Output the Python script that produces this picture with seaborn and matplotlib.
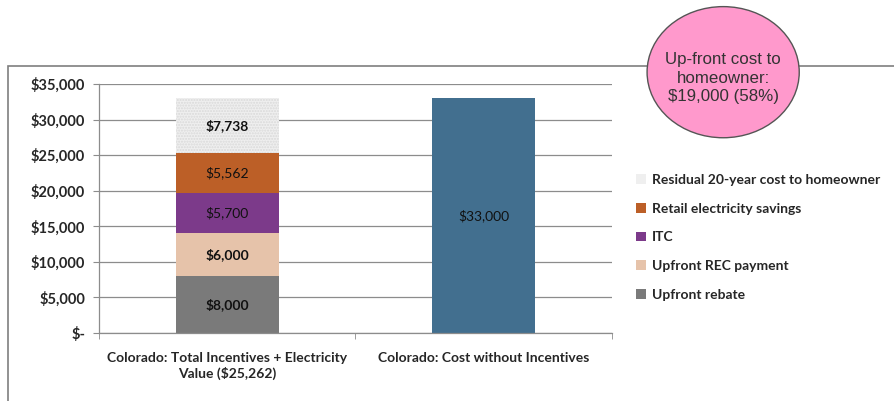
import numpy as np
import pandas as pd
import seaborn as sns
import matplotlib.pyplot as plt
from matplotlib.patches import Ellipse, Rectangle, Patch
from matplotlib.ticker import FuncFormatter, FixedLocator

categories = ["Colorado: Total Incentives + Electricity\nValue ($25,262)",
              "Colorado: Cost without Incentives"]
components = ["Upfront rebate", "Upfront REC payment", "ITC",
              "Retail electricity savings", "Residual 20-year cost to homeowner"]
component_values = [8000, 6000, 5700, 5562, 7738]
component_labels = ["$8,000", "$6,000", "$5,700", "$5,562", "$7,738"]
total_cost = 33000
total_label = "$33,000"
callout_text = "Up-front cost to\nhomeowner:\n$19,000 (58%)"

colors = ["#7a7a7a", "#e6c3aa", "#7c3a8a", "#bc5f27", "#efefef"]
blue = "#426f8f"

sns.set_style("white")
plt.rcParams['font.family'] = ['Lato', 'DejaVu Sans']

fig = plt.figure(figsize=(8.95, 4.01), dpi=100)
ax = fig.add_axes([0.1106, 0.1696, 0.5732, 0.6209])

# stacked bar: draw cumulative totals from top down
cum = np.cumsum(component_values)
for i in reversed(range(len(components))):
    df = pd.DataFrame({"cat": [categories[0]], "val": [cum[i]]})
    if i == 4:
        kw = dict(hatch="......", edgecolor="#d9d9d9", linewidth=0)
    else:
        kw = dict(linewidth=0)
    sns.barplot(data=df, x="cat", y="val", order=categories, color=colors[i],
                saturation=1, width=0.4, ax=ax, **kw)

df2 = pd.DataFrame({"cat": [categories[1]], "val": [total_cost]})
sns.barplot(data=df2, x="cat", y="val", order=categories, color=blue,
            saturation=1, width=0.4, linewidth=0, ax=ax)

# value labels
bottoms = np.concatenate([[0], cum[:-1]])
weights = ["bold", "bold", "normal", "normal", "bold"]
for b, v, lab, w in zip(bottoms, component_values, component_labels, weights):
    ax.text(0, b + v / 2, lab, ha="center", va="center", fontsize=10,
            fontweight=w, color="#111111", zorder=5)
ax.text(1, total_cost / 2, total_label, ha="center", va="center", fontsize=10,
        color="#111111", zorder=5)

ax.set_ylim(0, 35000)
ax.set_xlim(-0.5, 1.5)
ax.set_yticks(np.arange(0, 35001, 5000))
ax.yaxis.set_major_formatter(FuncFormatter(lambda v, p: "$-" if v == 0 else f"${int(v):,}"))
ax.grid(axis="y", color="#8c8c8c", linewidth=0.9)
ax.set_axisbelow(True)
for s in ["top", "right"]:
    ax.spines[s].set_visible(False)
for s in ["left", "bottom"]:
    ax.spines[s].set_color("#8c8c8c")
    ax.spines[s].set_linewidth(0.9)
ax.set_xlabel("")
ax.set_ylabel("")
ax.tick_params(axis="y", labelsize=10.5, length=4, color="#8c8c8c", pad=6, left=True)
ax.tick_params(axis="x", labelsize=10, length=0, pad=14)
ax.xaxis.set_minor_locator(FixedLocator([-0.5, 0.5, 1.5]))
ax.tick_params(axis="x", which="minor", length=4, color="#8c8c8c", bottom=True)
for t in ax.get_yticklabels() + ax.get_xticklabels():
    t.set_fontweight("bold")

# outer frame
fig.patches.append(Rectangle((8 / 895, -0.1), 1.2, 0.1 + 1 - 66 / 401,
                             transform=fig.transFigure, fill=False,
                             edgecolor="#7f7f7f", linewidth=1.2, zorder=0))

# legend
handles = [Patch(facecolor=colors[i], edgecolor="none") for i in reversed(range(5))]
labels = list(reversed(components))
leg = fig.legend(handles, labels, loc="upper left", bbox_to_anchor=(0.697, 0.597),
                 frameon=False, handlelength=0.7, handleheight=0.7, handletextpad=0.4,
                 labelspacing=1.2, prop={"weight": "bold", "size": 10})

# callout ellipse
fig.patches.append(Ellipse((0.808, 0.82), 0.170, 0.327, transform=fig.transFigure,
                           facecolor="#ff99cc", edgecolor="#555555", linewidth=1, zorder=3))
fig.text(0.808, 0.805, callout_text, ha="center", va="center", fontsize=12.2,
         family="Liberation Sans", color="#333333", linespacing=1.3, zorder=4)

plt.savefig("out.png", dpi=100)
